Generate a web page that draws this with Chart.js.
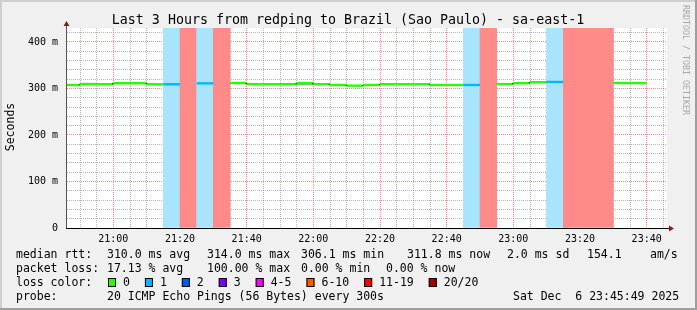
<!DOCTYPE html>
<html>
<head>
<meta charset="utf-8">
<script src="https://cdn.jsdelivr.net/npm/chart.js@4.4.1/dist/chart.umd.min.js"></script>
<style>
  html, body { margin: 0; padding: 0; background: #f0f0f0; }
  canvas { display: block; }
</style>
</head>
<body>
<canvas id="chart" width="697" height="310"></canvas>
<script>
// 5 minute steps, smokeping style
const stepStarts = ['20:45', '20:50', '20:55', '21:00', '21:05', '21:10', '21:15', '21:20', '21:25',
  '21:30', '21:35', '21:40', '21:45', '21:50', '21:55', '22:00', '22:05', '22:10', '22:15',
  '22:20', '22:25', '22:30', '22:35', '22:40', '22:45', '22:50', '22:55', '23:00', '23:05',
  '23:10', '23:15', '23:20', '23:25', '23:30', '23:35', '23:40'];
const medianMs = [307.5, 309.2, 309.2, 311.4, 311.4, 309.0, 309.0, null, 311.0,
  null, 311.8, 309.2, 309.2, 309.2, 311.5, 309.2, 307.5, 306.1, 307.5,
  309.2, 309.2, 309.2, 307.5, 307.5, 307.5, null, 309.4, 311.4, 313.5,
  314.0, null, null, null, 311.8, 311.8, null];
const lossPings = [0, 0, 0, 0, 0, 0, 1, 20, 1,
  20, 0, 0, 0, 0, 0, 0, 0, 0, 0,
  0, 0, 0, 0, 0, 1, 20, 0, 0, 0,
  1, 20, 20, 20, 0, 0, null];

// visible smoke (ping spread)
const smokeSteps = ['20:50', '21:55'];
const smokeLow = [309.6, 307.3];
const smokeHigh = [312.0, 310.2];

const viewStart = '20:46:06';
const viewHours = 3;
const yMax = 430;

const lossLabels = ['0', '1', '2', '3', '4-5', '6-10', '11-19', '20/20'];
const lossColors = ['#26ff00', '#00b8ff', '#0059ff', '#7e00ff', '#ff00ff', '#ff5500', '#ff0000', '#a10000'];

const statsLine1 = [['median rtt:', 16], ['310.0 ms avg', 107], ['314.0 ms max', 207], ['306.1 ms min', 301],
  ['311.8 ms now', 407], ['2.0 ms sd', 507], ['154.1', 587], ['am/s', 650]];
const statsLine2 = [['packet loss:', 16], ['17.13 % avg', 107], ['100.00 % max', 207], ['0.00 % min', 301],
  ['0.00 % now', 386]];
const probeText = '20 ICMP Echo Pings (56 Bytes) every 300s';
const stampText = 'Sat Dec  6 23:45:49 2025';
const titleText = 'Last 3 Hours from redping to Brazil (Sao Paulo) - sa-east-1';

const MONO = '"DejaVu Sans Mono", "Liberation Mono", monospace';
const STEP = 5;

const toMin = t => {
  const p = t.split(':').map(Number);
  return p[0] * 60 + p[1] + (p[2] || 0) / 60;
};
const fmt = v => {
  const h = Math.floor(v / 60), m = Math.round(v % 60);
  return String(h).padStart(2, '0') + ':' + String(m).padStart(2, '0');
};
const lossClass = n => n <= 3 ? n : n <= 5 ? 4 : n <= 10 ? 5 : n <= 19 ? 6 : 7;

const xMin = toMin(viewStart);
const xMax = xMin + viewHours * 60;

// median line, one flat run per step, gaps where all pings lost
const linePts = [];
const lineLoss = [];
stepStarts.forEach((t, i) => {
  const x0 = toMin(t);
  const v = medianMs[i];
  if (v == null) {
    linePts.push({ x: x0 + STEP / 2, y: null });
    lineLoss.push(null);
    return;
  }
  linePts.push({ x: x0, y: v }, { x: x0 + STEP, y: v });
  lineLoss.push(lossPings[i], lossPings[i]);
});

const bandData = [];
const bandCols = [];
stepStarts.forEach((t, i) => {
  if (!lossPings[i]) return;
  bandData.push({ x: toMin(t) + STEP / 2, y: [0, yMax] });
  bandCols.push(lossPings[i] >= 20 ? '#ff8a8a' : '#a8e5fc');
});

const smokeData = smokeSteps.map((t, k) => ({ x: toMin(t) + STEP / 2, y: [smokeLow[k], smokeHigh[k]] }));
const smokeCols = ['#d6d6d6', '#a3a3a3'];

const xTicks = [];
for (let v = Math.ceil(xMin / STEP) * STEP; v < xMax; v += STEP) xTicks.push({ value: v });
const yTicks = [];
for (let v = 0; v < yMax; v += 20) yTicks.push({ value: v });

const minorGrid = 'rgba(120,120,120,0.55)';
const majorGrid = 'rgba(255,40,40,0.55)';

const rrdDecor = {
  id: 'rrdDecor',
  beforeDraw(chart) {
    const { ctx, width, height, chartArea: a } = chart;
    ctx.save();
    ctx.fillStyle = '#f0f0f0';
    ctx.fillRect(0, 0, width, height);
    ctx.fillStyle = '#cfcfcf';
    ctx.fillRect(0, 0, width, 2);
    ctx.fillRect(0, 0, 2, height);
    ctx.fillStyle = '#9e9e9e';
    ctx.fillRect(0, height - 2, width, 2);
    ctx.fillRect(width - 2, 0, 2, height);
    ctx.fillStyle = '#ffffff';
    ctx.fillRect(a.left, a.top, a.right - a.left, a.bottom - a.top);
    ctx.restore();
  },
  afterDraw(chart) {
    const { ctx, chartArea: a } = chart;
    ctx.save();
    // axes
    ctx.lineWidth = 1;
    ctx.strokeStyle = '#555';
    ctx.beginPath();
    ctx.moveTo(a.left - 0.5, a.bottom + 1);
    ctx.lineTo(a.left - 0.5, a.top - 4);
    ctx.stroke();
    ctx.strokeStyle = '#000';
    ctx.beginPath();
    ctx.moveTo(a.left - 1, a.bottom + 0.5);
    ctx.lineTo(a.right + 3, a.bottom + 0.5);
    ctx.stroke();
    ctx.fillStyle = '#8b1a1a';
    ctx.beginPath();
    ctx.moveTo(a.left - 0.5, a.top - 7);
    ctx.lineTo(a.left - 3.5, a.top - 2);
    ctx.lineTo(a.left + 2.5, a.top - 2);
    ctx.closePath();
    ctx.fill();
    ctx.beginPath();
    ctx.moveTo(a.right + 7, a.bottom + 0.5);
    ctx.lineTo(a.right + 2, a.bottom - 2.5);
    ctx.lineTo(a.right + 2, a.bottom + 3.5);
    ctx.closePath();
    ctx.fill();

    // title
    ctx.fillStyle = '#000';
    ctx.font = '13.3px ' + MONO;
    ctx.textAlign = 'center';
    ctx.textBaseline = 'alphabetic';
    ctx.fillText(titleText, 348, 23.5);

    // vertical labels
    ctx.save();
    ctx.translate(14, 127);
    ctx.rotate(-Math.PI / 2);
    ctx.font = '11.5px ' + MONO;
    ctx.fillText('Seconds', 0, 0);
    ctx.restore();
    ctx.save();
    ctx.translate(683, 60);
    ctx.rotate(Math.PI / 2);
    ctx.font = '8.3px ' + MONO;
    ctx.fillStyle = '#a8a8a8';
    ctx.fillText('RRDTOOL / TOBI OETIKER', 0, 0);
    ctx.restore();

    // legend block
    ctx.font = '11.5px ' + MONO;
    ctx.textAlign = 'left';
    ctx.fillStyle = '#000';
    statsLine1.forEach(([s, x]) => ctx.fillText(s, x, 258));
    statsLine2.forEach(([s, x]) => ctx.fillText(s, x, 272));
    ctx.fillText('loss color:', 16, 286);
    let bx = 108;
    lossLabels.forEach((lab, i) => {
      ctx.fillStyle = lossColors[i];
      ctx.fillRect(bx, 278, 8, 9);
      ctx.strokeStyle = '#000';
      ctx.strokeRect(bx + 0.5, 278.5, 7, 8);
      ctx.fillStyle = '#000';
      ctx.fillText(lab, bx + 15, 286);
      bx += 15 + ctx.measureText(lab).width + 15;
    });
    ctx.fillText('probe:', 16, 300);
    ctx.fillText(probeText, 107, 300);
    ctx.fillText(stampText, 513, 300);
    ctx.restore();
  }
};

new Chart(document.getElementById('chart'), {
  type: 'line',
  data: {
    datasets: [
      {
        type: 'bar',
        label: 'loss',
        data: bandData,
        backgroundColor: bandCols,
        borderWidth: 0,
        grouped: false,
        barPercentage: 1,
        categoryPercentage: 1,
        order: 3
      },
      {
        type: 'bar',
        label: 'smoke',
        data: smokeData,
        backgroundColor: smokeCols,
        borderWidth: 0,
        grouped: false,
        barPercentage: 1,
        categoryPercentage: 1,
        order: 2
      },
      {
        label: 'median rtt',
        data: linePts,
        borderWidth: 2.4,
        borderCapStyle: 'butt',
        pointRadius: 0,
        spanGaps: false,
        tension: 0,
        segment: {
          borderColor: c => {
            if (c.p0.parsed.x === c.p1.parsed.x) return '#202020';
            return lossColors[lossClass(lineLoss[c.p0DataIndex])];
          }
        },
        order: 1
      }
    ]
  },
  options: {
    responsive: false,
    animation: false,
    devicePixelRatio: 1,
    layout: { padding: { top: 28, right: 30, left: 0, bottom: 0 } },
    plugins: {
      legend: { display: false },
      tooltip: { enabled: false },
      title: { display: false }
    },
    scales: {
      x: {
        type: 'linear',
        min: xMin,
        max: xMax,
        offset: false,
        afterBuildTicks: s => { s.ticks = xTicks.slice(); },
        afterFit: s => { s.height = 82; },
        grid: {
          offset: false,
          drawTicks: false,
          lineWidth: 1,
          color: c => (c.tick && c.tick.value % 20 === 0) ? majorGrid : minorGrid
        },
        border: { display: false, dash: [1, 1] },
        ticks: {
          autoSkip: false,
          maxRotation: 0,
          padding: 5,
          color: '#000',
          font: { family: MONO, size: 10 },
          callback: v => v % 20 === 0 ? fmt(v) : ''
        }
      },
      y: {
        type: 'linear',
        min: 0,
        max: yMax,
        afterBuildTicks: s => { s.ticks = yTicks.slice(); },
        afterFit: s => { s.width = 67; },
        grid: {
          drawTicks: false,
          lineWidth: 1,
          color: c => (c.tick && c.tick.value % 100 === 0) ? majorGrid : minorGrid
        },
        border: { display: false, dash: [1, 1] },
        ticks: {
          autoSkip: false,
          padding: 9,
          color: '#000',
          font: { family: MONO, size: 10 },
          callback: v => v % 100 === 0 ? (v === 0 ? '0' : v + ' m') : ''
        }
      }
    }
  },
  plugins: [rrdDecor]
});
</script>
</body>
</html>
